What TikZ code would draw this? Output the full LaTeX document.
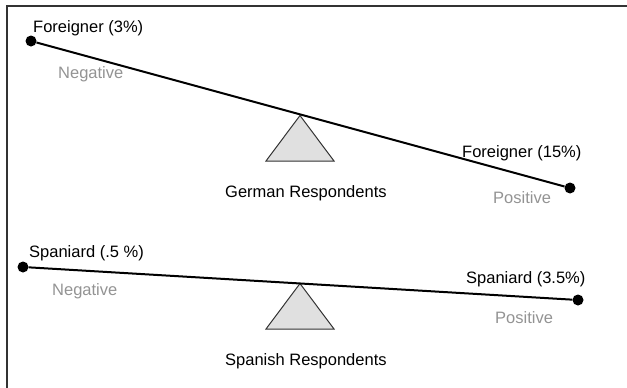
\documentclass[tikz,border=0pt]{standalone}
\usepackage{fontspec}
\setmainfont{Liberation Sans}
\begin{document}
\begin{tikzpicture}[x=1pt,y=-1pt,
  lbl/.style={inner sep=0pt,anchor=base west,font=\fontsize{16.5}{19}\selectfont,text=black},
  side/.style={lbl,text=gray!85},
  dot/.style={circle,fill=black,inner sep=0pt,minimum size=11pt},
  beam/.style={line width=2pt,black},
  fulcrum/.style={draw=black!80,line width=1pt,fill=black!12,line join=miter},
  frame/.style={line width=1.5pt,black!80}]
\useasboundingbox (0,0) rectangle (627,388);
\draw[frame] (7,388) -- (7,6) -- (627,6);
% German
\node[dot] (gl) at (31,41) {};
\node[dot] (gr) at (570,188) {};
\draw[fulcrum] (300,115.5) -- (334,161) -- (266,161) -- cycle;
\draw[beam] (gl) -- (gr);
\node[lbl] (g1) at (33,32.5) {Foreigner (3\%)};
\node[side] (g2) at (58,78.5) {Negative};
\node[lbl] (g3) at (462,157.5) {Foreigner (15\%)};
\node[side] (g4) at (493,203) {Positive};
\node[lbl] (g5) at (225,197.5) {German Respondents};
% Spanish
\node[dot] (sl) at (23,267) {};
\node[dot] (sr) at (578,300) {};
\draw[fulcrum] (300,283.5) -- (334,329) -- (266,329) -- cycle;
\draw[beam] (sl) -- (sr);
\node[lbl] (s1) at (29,257.5) {Spaniard (.5 \%)};
\node[side] (s2) at (52,295.5) {Negative};
\node[lbl] (s3) at (466,283.5) {Spaniard (3.5\%)};
\node[side] (s4) at (495,323.5) {Positive};
\node[lbl] (s5) at (225,365.5) {Spanish Respondents};
\end{tikzpicture}
\end{document}
